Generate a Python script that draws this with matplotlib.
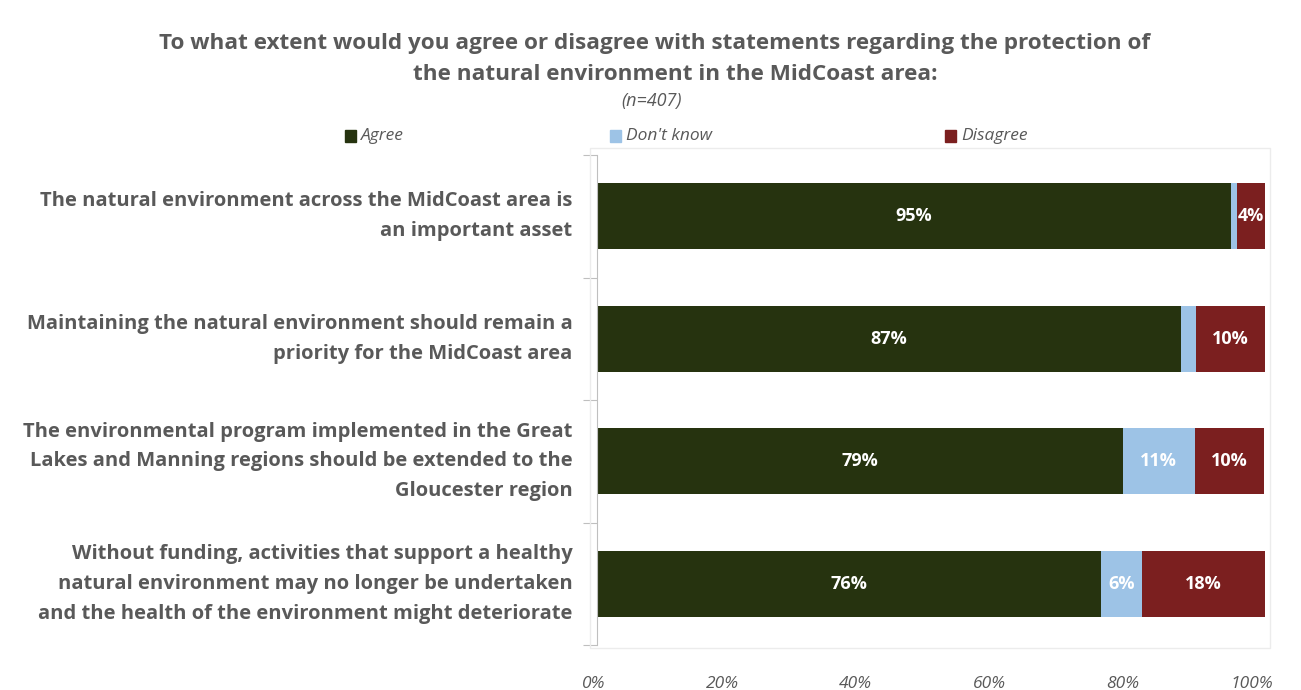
import matplotlib
matplotlib.use("Agg")
import matplotlib.pyplot as plt
from matplotlib.patches import Rectangle
from matplotlib.transforms import ScaledTranslation

plt.rcParams['font.family'] = ['Open Sans', 'DejaVu Sans']

categories = [
    "The natural environment across the MidCoast area is\nan important asset",
    "Maintaining the natural environment should remain a\npriority for the MidCoast area",
    "The environmental program implemented in the Great\nLakes and Manning regions should be extended to the\nGloucester region",
    "Without funding, activities that support a healthy\nnatural environment may no longer be undertaken\nand the health of the environment might deteriorate",
]
series_names = ["Agree", "Don't know", "Disagree"]
agree = [94.9, 87.4, 78.7, 75.5]
dont_know = [0.9, 2.2, 10.8, 6.1]
disagree = [4.2, 10.4, 10.4, 18.4]
xticks = [0, 20, 40, 60, 80, 100]
title_line1 = "To what extent would you agree or disagree with statements regarding the protection of"
title_line2 = "the natural environment in the MidCoast area:"
subtitle = "(n=407)"

colors = ["#26330f", "#9dc3e6", "#7b1f1f"]
gray = "#595959"

fig = plt.figure(figsize=(13.01, 6.9), dpi=100)
ax = fig.add_axes([597/1301, 1-645/690, 668/1301, 490/690])

n = len(categories)
ypos = list(range(n))
left = [0]*n
for vals, col in zip([agree, dont_know, disagree], colors):
    ax.barh(ypos, vals, left=left, height=0.54, color=col, edgecolor='none')
    for y, v, l in zip(ypos, vals, left):
        if v >= 3.5:
            ax.text(l + v/2, y, f"{v:.0f}%", ha='center', va='center', color='white',
                    fontsize=13, fontweight='bold')
    left = [a+b for a, b in zip(left, vals)]

ax.set_xlim(0, 100)
ax.set_ylim(n-0.5, -0.5)
ax.set_xticks(xticks)
ax.set_xticklabels([f"{t}%" for t in xticks], fontsize=12.5, color=gray, style='italic')
ax.tick_params(axis='x', length=0, pad=22)
for lab in ax.get_xticklabels():
    lab.set_horizontalalignment('right')
    lab.set_transform(lab.get_transform() + ScaledTranslation(8/100, 0, fig.dpi_scale_trans))
ax.set_yticks([i+0.5 for i in range(-1, n)])
ax.set_yticklabels([])
ax.tick_params(axis='y', length=10, color='#bfbfbf', direction='out')
for y, c in zip(ypos, categories):
    ax.text(-3.7, y, c, ha='right', va='center', fontsize=14.5, fontweight='bold',
            color=gray, linespacing=1.65)
for s in ['top', 'right', 'bottom']:
    ax.spines[s].set_visible(False)
ax.spines['left'].set_color('#bfbfbf')

fig.add_artist(Rectangle((590/1301, 1-648/690), 680/1301, 500/690, transform=fig.transFigure,
                         fill=False, edgecolor='#ececec', lw=1))

fig.text(655/1301, 1-43/690, title_line1, ha='center', va='center', fontsize=16.2,
         fontweight='bold', color=gray)
fig.text(675/1301, 1-74/690, title_line2, ha='center', va='center', fontsize=16.2,
         fontweight='bold', color=gray)
fig.text(652/1301, 1-101/690, subtitle, ha='center', va='center', fontsize=13,
         style='italic', color=gray)

leg_x = [345, 610, 945]
for x, name, col in zip(leg_x, series_names, colors):
    fig.add_artist(Rectangle((x/1301, 1-142/690), 11/1301, 12/690, transform=fig.transFigure,
                             color=col))
    fig.text((x+16)/1301, 1-136/690, name, ha='left', va='center', fontsize=12.5,
             style='italic', color=gray)

fig.savefig("out.png", dpi=100)
